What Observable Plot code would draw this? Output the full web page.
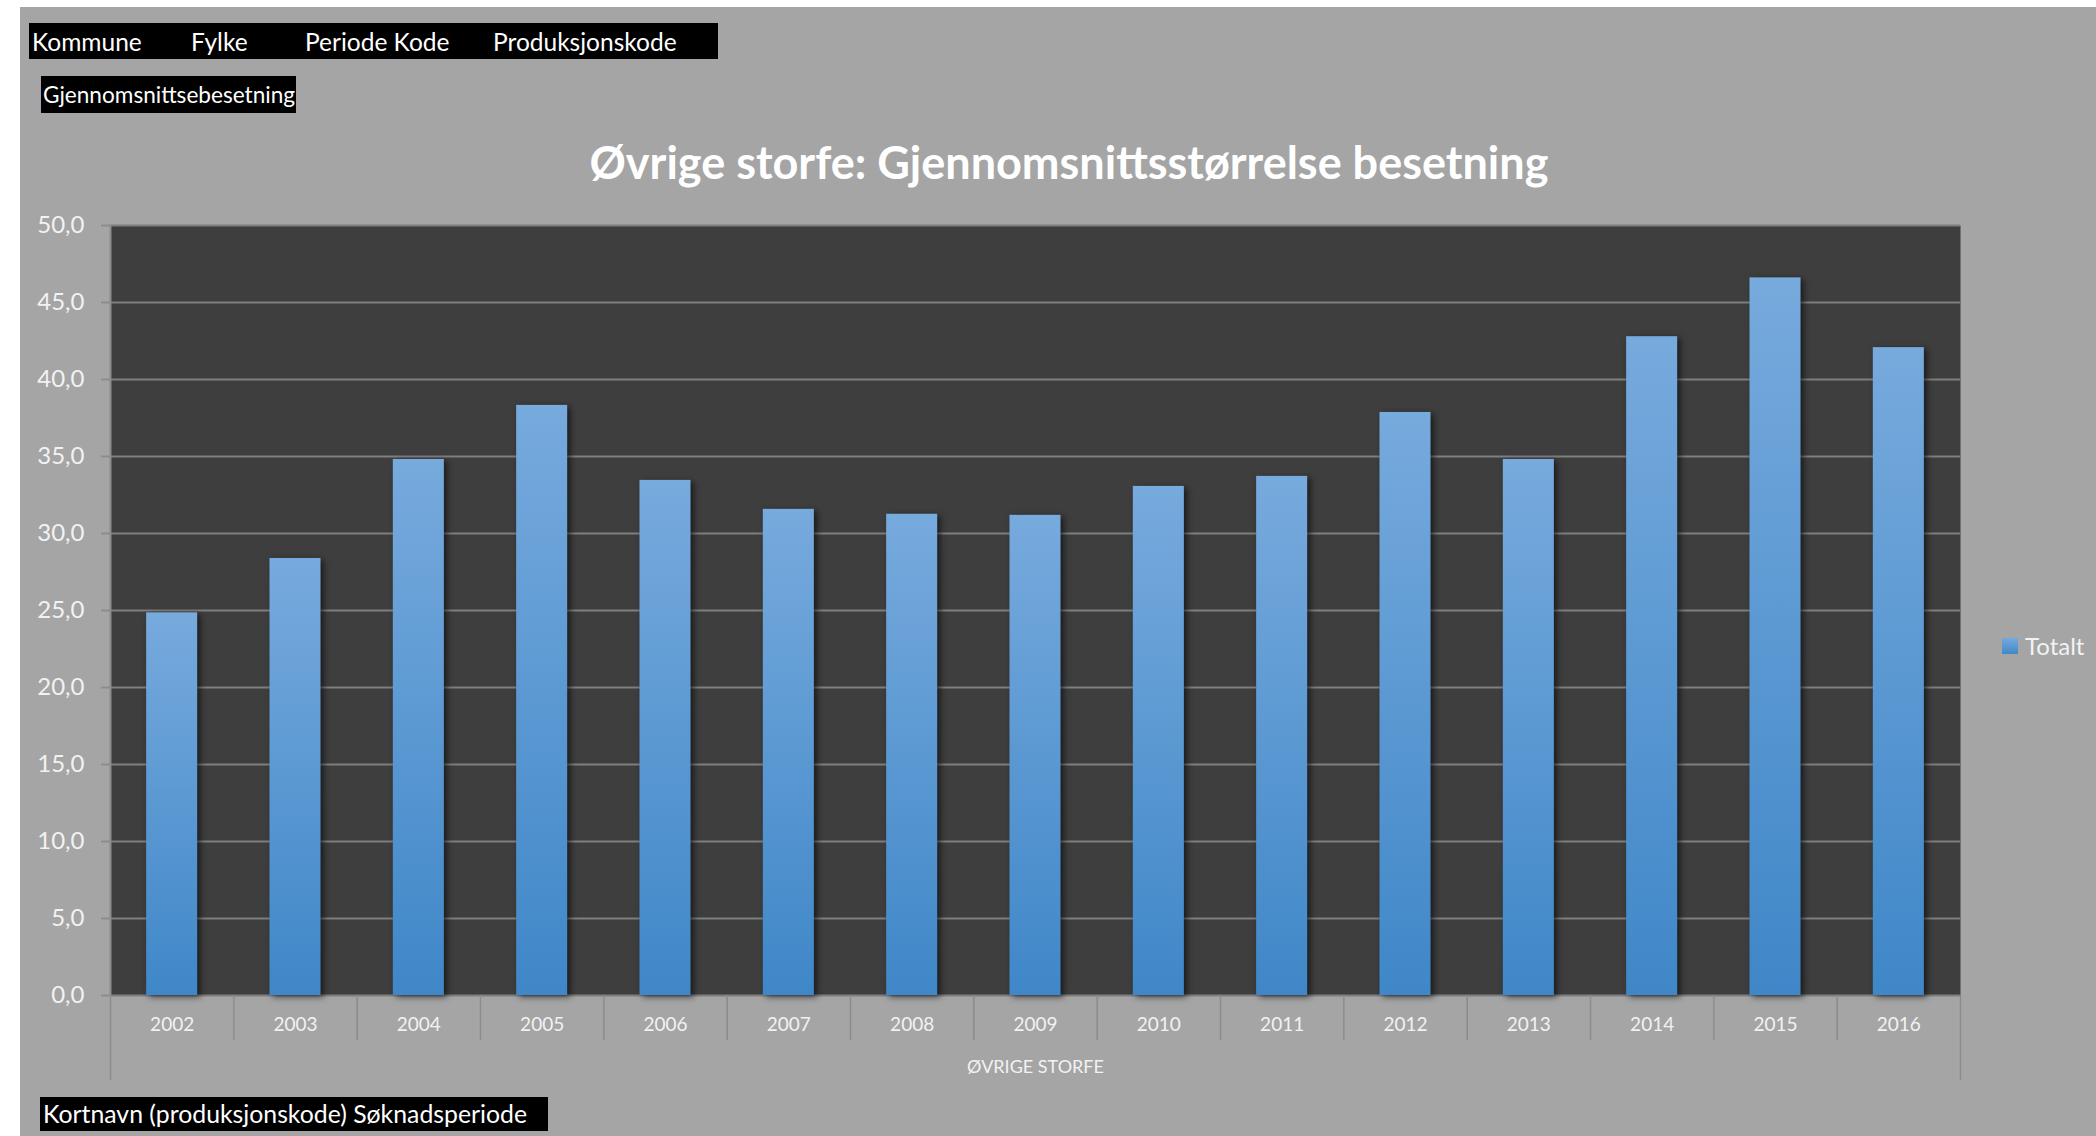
<!DOCTYPE html>
<html>
<head>
<meta charset="utf-8">
<script src="https://cdn.jsdelivr.net/npm/d3@7"></script>
<script src="https://cdn.jsdelivr.net/npm/@observablehq/plot@0.6"></script>
<style>
  html, body { margin: 0; padding: 0; background: #ffffff; width: 2096px; height: 1136px; overflow: hidden; font-family: Lato, "Open Sans", sans-serif; }
  #bg { position: absolute; left: 20px; top: 7px; right: 0; bottom: 0; background: #a5a5a5; }
  .box { position: absolute; background: #000; color: #fff; white-space: nowrap; }
  .box span { position: absolute; top: 1px; }
  #title { position: absolute; left: 469px; width: 1200px; top: 140px; text-align: center; color: #fff; font-weight: 700; font-size: 45px; line-height: 1; white-space: nowrap; }
  #chart { position: absolute; left: 0; top: 180px; }
  #legend { position: absolute; left: 2002px; top: 630px; color: #f2f2f2; font-size: 24px; line-height: 32px; white-space: nowrap; }
  #legend i { position: absolute; left: 0; top: 8px; width: 16px; height: 16px; background: linear-gradient(#76a9dd, #4088c9); }
  #legend span { position: absolute; left: 23px; top: 0; }
</style>
</head>
<body>
<div id="bg"></div>
<div id="filters" class="box" style="left:29px;top:23px;width:689px;height:36px;line-height:36px;font-size:24.5px;"></div>
<div id="valuebox" class="box" style="left:41px;top:76px;width:255px;height:37px;line-height:38px;font-size:22.6px;padding-left:2px;box-sizing:border-box;"></div>
<div id="title"></div>
<div id="chart"></div>
<div id="legend"><i></i><span></span></div>
<div id="rowbox" class="box" style="left:40px;top:1097px;width:508px;height:34px;line-height:34px;font-size:24.8px;padding-left:3px;box-sizing:border-box;"></div>
<script>
// ---- Data ----
const years = [2002, 2003, 2004, 2005, 2006, 2007, 2008, 2009, 2010, 2011, 2012, 2013, 2014, 2015, 2016];
const values = [24.85, 28.38, 34.81, 38.32, 33.45, 31.57, 31.25, 31.18, 33.06, 33.71, 37.86, 34.81, 42.78, 46.6, 42.07];
const yTicks = [0, 5, 10, 15, 20, 25, 30, 35, 40, 45, 50];
const seriesName = "Totalt";
const xAxisTitle = "ØVRIGE STORFE";
const chartTitle = "Øvrige storfe: Gjennomsnittsstørrelse besetning";
const filterFields = ["Kommune", "Fylke", "Periode Kode", "Produksjonskode"];
const valueField = "Gjennomsnittsebesetning";
const rowField = "Kortnavn (produksjonskode) Søknadsperiode";

// ---- Layout / style constants ----
const filterOffsets = [3, 162, 276, 464];
const barHalf = 0.207;
const gridColor = "#7f7f7f";
const tickColor = "#8c8c8c";
const textColor = "#f2f2f2";

// ---- HTML texts ----
const fEl = document.getElementById("filters");
filterFields.forEach((f, i) => {
  const s = document.createElement("span");
  s.textContent = f;
  s.style.left = filterOffsets[i] + "px";
  fEl.appendChild(s);
});
document.getElementById("valuebox").textContent = valueField;
document.getElementById("rowbox").textContent = rowField;
document.getElementById("title").textContent = chartTitle;
document.querySelector("#legend span").textContent = seriesName;

// ---- Chart ----
const data = years.map((y, i) => ({year: y, value: values[i]}));
const xMin = years[0] - 0.5, xMax = years[years.length - 1] + 0.5;
const innerBounds = years.slice(0, -1).map(y => y + 0.5);
const outerBounds = [xMin, xMax];

const chart = Plot.plot({
  width: 2096,
  height: 910,
  marginLeft: 110,
  marginRight: 136,
  marginTop: 45,
  marginBottom: 95,
  style: {background: "transparent", fontFamily: "Lato, 'Open Sans', sans-serif", overflow: "visible"},
  x: {domain: [xMin, xMax]},
  y: {domain: [0, 50]},
  marks: [
    Plot.frame({fill: "#3e3e3e", stroke: "none"}),
    Plot.gridY(yTicks, {stroke: gridColor, strokeOpacity: 1, strokeWidth: 2}),
    Plot.ruleX([xMin], {stroke: tickColor, strokeWidth: 2}),
    Plot.rectY(data, {x1: d => d.year - barHalf, x2: d => d.year + barHalf, y: "value", fill: "url(#barGrad)"}),
    Plot.axisY(yTicks, {tickSize: 9, tickPadding: 17, stroke: tickColor, strokeWidth: 2, fill: textColor, fontSize: 24, tickFormat: d => d.toFixed(1).replace(".", ","), label: null}),
    Plot.axisX(innerBounds, {tickSize: 45, stroke: tickColor, strokeWidth: 1.5, tickFormat: () => "", label: null}),
    Plot.axisX(outerBounds, {tickSize: 85, stroke: tickColor, strokeWidth: 1.5, tickFormat: () => "", label: null}),
    Plot.axisX(years, {tickSize: 0, tickPadding: 22, fill: textColor, fontSize: 19, tickFormat: d => String(d), label: null}),
    Plot.text([xAxisTitle], {frameAnchor: "bottom", dy: 77, fill: textColor, fontSize: 18})
  ]
});

const svg = d3.select(chart);
const defs = svg.insert("defs", ":first-child");
const grad = defs.append("linearGradient").attr("id", "barGrad").attr("x1", 0).attr("y1", 0).attr("x2", 0).attr("y2", 1);
grad.append("stop").attr("offset", 0).attr("stop-color", "#77aadd");
grad.append("stop").attr("offset", 1).attr("stop-color", "#3f87c8");
svg.selectAll('g[aria-label="rect"]').style("filter", "drop-shadow(3px 2px 3px rgba(0,0,0,0.6))");

document.getElementById("chart").appendChild(chart);
</script>
</body>
</html>
